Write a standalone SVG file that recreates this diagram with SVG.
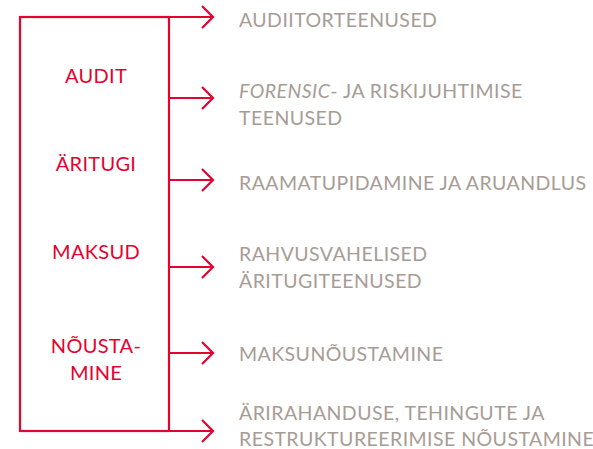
<svg xmlns="http://www.w3.org/2000/svg" width="593" height="449" viewBox="0 0 593 449">
<style>
.ln{fill:none;stroke:#E4032E;stroke-width:2.2}
.lab{font-family:Lato,"Open Sans",sans-serif;font-size:20px;fill:#E4032E;text-anchor:middle;letter-spacing:0.3px}
.svc{font-family:Lato,"Open Sans",sans-serif;font-size:19.5px;fill:#A79C95;letter-spacing:0.45px}
</style>
<defs>
<marker id="ah" markerWidth="14" markerHeight="26" refX="12" refY="12" orient="auto" markerUnits="userSpaceOnUse">
<path d="M1,1 L12,12 L1,23" fill="none" stroke="#E4032E" stroke-width="2.2"/>
</marker>
</defs>
<g id="box">
<rect class="ln" x="20" y="17" width="149" height="414"/>
</g>
<g id="labels">
<text class="lab" x="96" y="83">AUDIT</text>
<text class="lab" x="96" y="171">ÄRITUGI</text>
<text class="lab" x="96" y="259">MAKSUD</text>
<text class="lab" x="96" y="353">NÕUSTA-</text>
<text class="lab" x="96" y="380">MINE</text>
</g>
<g id="connectors">
<line class="ln" x1="169" y1="17" x2="213" y2="17" marker-end="url(#ah)"/>
<line class="ln" x1="169" y1="98" x2="213" y2="98" marker-end="url(#ah)"/>
<line class="ln" x1="169" y1="180" x2="213" y2="180" marker-end="url(#ah)"/>
<line class="ln" x1="169" y1="267" x2="213" y2="267" marker-end="url(#ah)"/>
<line class="ln" x1="169" y1="353" x2="213" y2="353" marker-end="url(#ah)"/>
<line class="ln" x1="169" y1="431" x2="213" y2="431" marker-end="url(#ah)"/>
</g>
<g id="s1"><text class="svc" x="239" y="27">AUDIITORTEENUSED</text></g>
<g id="s2"><text class="svc" x="239" y="98"><tspan font-style="italic">FORENSIC</tspan>- JA RISKIJUHTIMISE</text><text class="svc" x="239" y="125">TEENUSED</text></g>
<g id="s3"><text class="svc" x="239" y="190">RAAMATUPIDAMINE JA ARUANDLUS</text></g>
<g id="s4"><text class="svc" x="239" y="261">RAHVUSVAHELISED</text><text class="svc" x="239" y="288">ÄRITUGITEENUSED</text></g>
<g id="s5"><text class="svc" x="239" y="361">MAKSUNÕUSTAMINE</text></g>
<g id="s6"><text class="svc" x="239" y="420">ÄRIRAHANDUSE, TEHINGUTE JA</text><text class="svc" x="239" y="446">RESTRUKTUREERIMISE NÕUSTAMINE</text></g>
</svg>
